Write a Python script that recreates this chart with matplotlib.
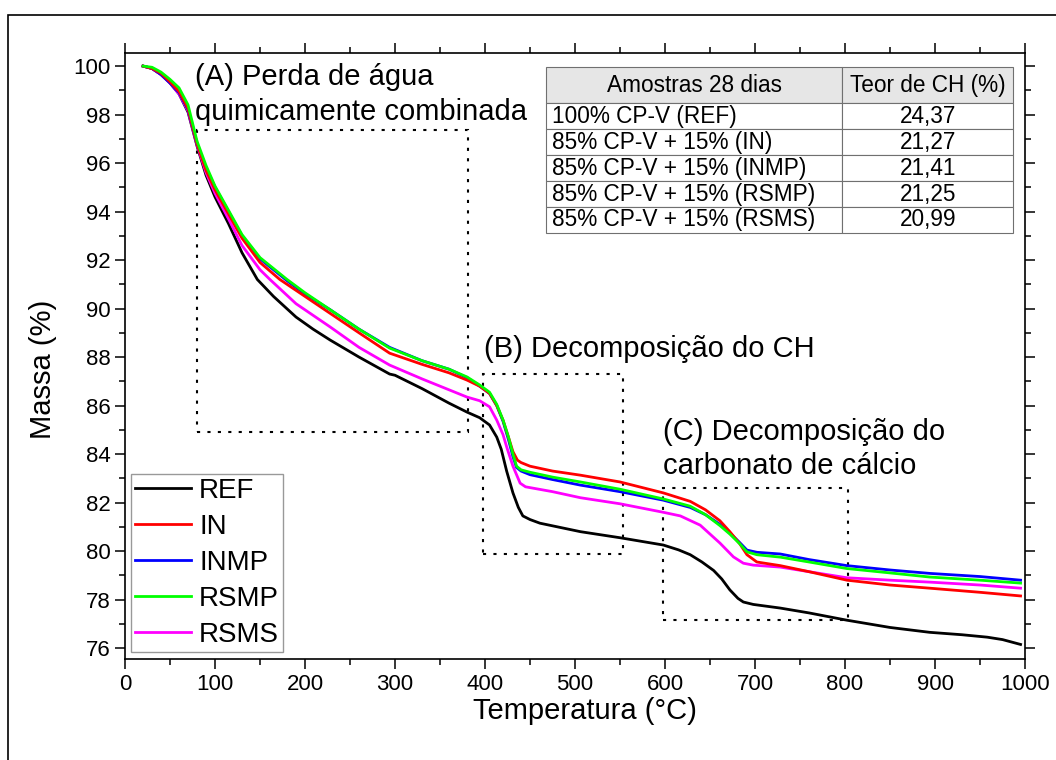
import matplotlib
matplotlib.use("Agg")
import matplotlib.pyplot as plt
from matplotlib.patches import Rectangle
from matplotlib.ticker import MultipleLocator

plt.rcParams['font.family'] = ['Liberation Sans', 'DejaVu Sans']

# Curvas TG (temperatura em °C, massa em %)
t_ref = [20, 30, 40, 50, 60, 70, 80, 90, 100, 115, 130, 147, 165, 190, 209, 228, 260, 294, 300,
         330, 360, 380, 394, 405, 413, 418, 424, 431, 437, 442, 450, 461, 506, 550, 598, 615, 628,
         641, 654, 663, 672, 681, 687, 698, 728, 760, 802, 850, 894, 930, 958, 975, 995]
m_ref = [100.0, 99.9, 99.65, 99.3, 98.85, 98.1, 96.7, 95.5, 94.6, 93.5, 92.3, 91.2, 90.5, 89.65, 89.15,
         88.7, 88.0, 87.3, 87.25, 86.7, 86.1, 85.73, 85.5, 85.2, 84.7, 84.2, 83.3, 82.4, 81.8, 81.45,
         81.3, 81.15, 80.8, 80.55, 80.25, 80.05, 79.85, 79.55, 79.2, 78.85, 78.4, 78.05, 77.9, 77.8,
         77.65, 77.45, 77.15, 76.85, 76.65, 76.55, 76.45, 76.35, 76.15]

t_in = [20, 30, 40, 50, 60, 70, 80, 90, 100, 115, 130, 150, 172, 200, 228, 260, 294, 330, 360, 380,
        394, 405, 413, 420, 426, 431, 436, 440, 450, 475, 506, 550, 598, 628, 645, 661, 672, 683,
        691, 702, 728, 760, 802, 850, 894, 950, 995]
m_in = [100.0, 99.9, 99.7, 99.35, 98.95, 98.25, 96.8, 95.7, 94.9, 93.9, 92.9, 91.9, 91.2, 90.5, 89.8,
        89.0, 88.16, 87.7, 87.35, 87.05, 86.8, 86.5, 86.0, 85.4, 84.7, 84.1, 83.75, 83.65, 83.5, 83.3,
        83.13, 82.85, 82.4, 82.05, 81.7, 81.25, 80.8, 80.3, 79.85, 79.55, 79.4, 79.15, 78.8, 78.6,
        78.47, 78.3, 78.15]

t_inmp = [20, 30, 40, 50, 60, 70, 80, 90, 100, 115, 130, 150, 180, 200, 228, 260, 294, 330, 360, 380,
          394, 405, 413, 420, 426, 431, 435, 440, 450, 475, 506, 550, 598, 628, 645, 661, 672, 683,
          691, 702, 728, 760, 802, 850, 894, 950, 995]
m_inmp = [100.0, 99.9, 99.65, 99.3, 98.9, 98.2, 96.8, 95.8, 95.0, 94.0, 93.0, 92.05, 91.15, 90.6, 89.95,
          89.15, 88.4, 87.85, 87.5, 87.15, 86.8, 86.5, 86.0, 85.35, 84.6, 83.9, 83.45, 83.3, 83.15,
          82.95, 82.72, 82.45, 82.1, 81.8, 81.5, 81.1, 80.75, 80.35, 80.04, 79.95, 79.88, 79.65,
          79.4, 79.22, 79.08, 78.95, 78.8]

t_rsmp = [20, 30, 40, 50, 60, 70, 80, 90, 100, 115, 130, 150, 180, 200, 228, 260, 294, 330, 360, 380,
          394, 405, 413, 420, 426, 431, 435, 440, 450, 475, 506, 550, 598, 628, 645, 661, 672, 683,
          691, 702, 728, 760, 802, 850, 894, 950, 995]
m_rsmp = [100.0, 99.95, 99.75, 99.45, 99.1, 98.4, 96.9, 95.9, 95.05, 94.05, 93.05, 92.1, 91.2, 90.65,
          89.95, 89.15, 88.37, 87.85, 87.5, 87.18, 86.85, 86.55, 86.05, 85.4, 84.7, 84.0, 83.5, 83.35,
          83.25, 83.05, 82.85, 82.55, 82.15, 81.85, 81.5, 81.05, 80.7, 80.3, 79.97, 79.85, 79.75,
          79.55, 79.28, 79.1, 78.93, 78.8, 78.68]

t_rsms = [20, 30, 40, 50, 60, 70, 80, 90, 100, 115, 130, 150, 161, 190, 228, 260, 294, 330, 360, 380,
          394, 405, 413, 420, 424, 431, 439, 445, 475, 506, 550, 598, 617, 639, 650, 661, 676, 687,
          698, 728, 760, 802, 850, 894, 950, 995]
m_rsms = [100.0, 99.9, 99.65, 99.3, 98.85, 98.15, 96.75, 95.6, 94.75, 93.7, 92.6, 91.6, 91.2, 90.2,
          89.24, 88.4, 87.67, 87.1, 86.65, 86.35, 86.2, 85.95, 85.4, 84.8, 84.3, 83.5, 82.8, 82.65,
          82.45, 82.2, 81.95, 81.6, 81.45, 81.07, 80.7, 80.33, 79.76, 79.5, 79.42, 79.34, 79.15,
          78.9, 78.8, 78.72, 78.6, 78.47]

nomes = ['REF', 'IN', 'INMP', 'RSMP', 'RSMS']
cores = ['black', 'red', 'blue', '#00ff00', 'magenta']

# Tabela de teor de CH
tab_cabecalho = ['Amostras 28 dias', 'Teor de CH (%)']
tab_amostras = ['100% CP-V (REF)', '85% CP-V + 15% (IN)', '85% CP-V + 15% (INMP)',
                '85% CP-V + 15% (RSMP)', '85% CP-V + 15% (RSMS)']
tab_teor = ['24,37', '21,27', '21,41', '21,25', '20,99']

fig = plt.figure(figsize=(10.56, 7.6), dpi=100)
ax = fig.add_axes([0.1184, 0.1329, 0.8523, 0.7974])

# moldura externa
fig.patches.append(Rectangle((0.0076, -0.5), 1.5, 1.48, transform=fig.transFigure,
                             fill=False, edgecolor='black', linewidth=1.2))

series_t = [t_ref, t_in, t_inmp, t_rsmp, t_rsms]
series_m = [m_ref, m_in, m_inmp, m_rsmp, m_rsms]
# ordem de desenho
ordem = [0, 4, 2, 1, 3]
linhas = {}
for i in ordem:
    l, = ax.plot(series_t[i], series_m[i], color=cores[i], linewidth=2.0, label=nomes[i])
    linhas[i] = l

ax.set_xlim(0, 1000)
ax.set_ylim(75.55, 100.54)
ax.xaxis.set_major_locator(MultipleLocator(100))
ax.xaxis.set_minor_locator(MultipleLocator(50))
ax.yaxis.set_major_locator(MultipleLocator(2))
ax.yaxis.set_minor_locator(MultipleLocator(1))
ax.tick_params(which='both', direction='out', top=True, right=True, labelsize=16, width=1.1)
ax.tick_params(which='major', length=7)
ax.tick_params(which='minor', length=4)
for s in ax.spines.values():
    s.set_linewidth(1.2)

ax.set_xlabel('Temperatura (°C)', fontsize=21)
ax.set_ylabel('Massa (%)', fontsize=21)
ax.xaxis.set_label_coords(0.511, -0.063)
ax.yaxis.set_label_coords(-0.0756, 0.4785)

# caixas pontilhadas
caixas = [(80, 84.9, 381, 97.35), (398, 79.9, 553, 87.3), (598, 77.15, 803, 82.6)]
for x0, y0, x1, y1 in caixas:
    ax.add_patch(Rectangle((x0, y0), x1 - x0, y1 - y0, fill=False, linestyle=(0, (1.5, 3.5)),
                           edgecolor='black', linewidth=1.5))

ax.text(78, 100.12, '(A) Perda de água\nquimicamente combinada', fontsize=21, va='top',
        linespacing=1.3)
ax.text(399, 88.35, '(B) Decomposição do CH', fontsize=21, va='center')
ax.text(598, 85.5, '(C) Decomposição do\ncarbonato de cálcio', fontsize=21, va='top',
        linespacing=1.3)

leg = ax.legend([linhas[i] for i in range(5)], nomes, loc='lower left', fontsize=20,
                bbox_to_anchor=(6 / 900, 7 / 606), borderaxespad=0,
                frameon=True, fancybox=False, edgecolor='gray', handlelength=2.0,
                labelspacing=0.36, handletextpad=0.3, borderpad=0.15)
leg.get_frame().set_linewidth(1.0)

linhas_tab = [tab_cabecalho] + [[a, t] for a, t in zip(tab_amostras, tab_teor)]
tabela = ax.table(cellText=linhas_tab, bbox=[0.468, 0.703, 0.519, 0.274],
                  colWidths=[0.634, 0.366], cellLoc='center')
tabela.auto_set_font_size(False)
tabela.set_fontsize(16.3)
for (r, c), cel in tabela.get_celld().items():
    cel.set_edgecolor('#707070')
    cel.set_linewidth(0.8)
    if r == 0:
        cel.set_facecolor('#e6e6e6')
        cel.set_height(cel.get_height() * 1.4)
    if r > 0 and c == 0:
        cel.get_text().set_ha('left')
        cel.PAD = 0.02

fig.savefig('out.png', dpi=100)
